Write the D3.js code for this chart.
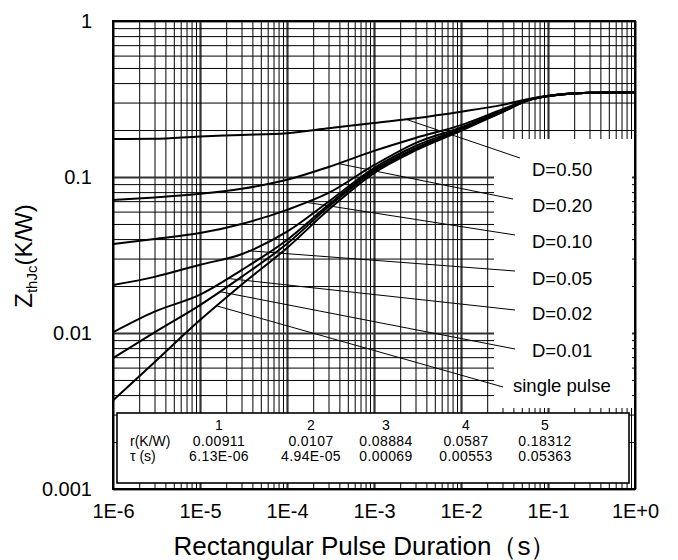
<!DOCTYPE html>
<html>
<head>
<meta charset="utf-8">
<script src="https://cdn.jsdelivr.net/npm/d3@7"></script>
<style>
body { margin: 0; background: #fff; }
svg { font-family: "Liberation Sans", Arial, sans-serif; display: block; }
</style>
</head>
<body>
<div class="canvas"></div>
<script>
const durations = [1e-6, 3e-6, 1e-5, 3e-5, 1e-4, 3e-4, 1e-3, 3e-3, 1e-2, 3e-2, 6e-2, 1e-1, 3e-1, 1]

// Zth(j-c) in K/W for each duty cycle
const zD50 = [0.175, 0.176, 0.182, 0.186, 0.191, 0.205, 0.222, 0.238, 0.262, 0.290, 0.316, 0.332, 0.347, 0.350]
const zD20 = [0.0712, 0.074, 0.078, 0.084, 0.096, 0.116, 0.147, 0.178, 0.215, 0.272, 0.314, 0.331, 0.347, 0.350]
const zD10 = [0.0372, 0.040, 0.0437, 0.050, 0.0616, 0.079, 0.119, 0.165, 0.208, 0.268, 0.313, 0.331, 0.347, 0.350]
const zD05 = [0.0203, 0.0229, 0.0274, 0.032, 0.0446, 0.0694, 0.114, 0.158, 0.204, 0.265, 0.312, 0.330, 0.347, 0.350]
const zD02 = [0.0101, 0.0137, 0.0176, 0.0253, 0.0395, 0.0663, 0.111, 0.153, 0.201, 0.263, 0.311, 0.330, 0.347, 0.350]
const zD01 = [0.0069, 0.0101, 0.0151, 0.0229, 0.0373, 0.0644, 0.109, 0.151, 0.200, 0.262, 0.311, 0.330, 0.347, 0.350]
const zSingle = [0.0037, 0.0065, 0.0121, 0.0204, 0.0351, 0.0616, 0.106, 0.148, 0.198, 0.261, 0.310, 0.330, 0.347, 0.350]

const seriesNames = ['D=0.50', 'D=0.20', 'D=0.10', 'D=0.05', 'D=0.02', 'D=0.01', 'single pulse']
// where each label's leader touches its curve: [t, Zth]
const leaderAnchors = [[2.3e-3, 0.235], [3.86e-4, 0.122], [1.61e-4, 0.069], [3.57e-5, 0.0337], [2.04e-5, 0.0224], [1.7e-5, 0.0184], [1.57e-5, 0.0149]]

const xTickLabels = ['1E-6', '1E-5', '1E-4', '1E-3', '1E-2', '1E-1', '1E+0']
const yTickLabels = ['0.001', '0.01', '0.1', '1']

// Foster network table
const tableHeader = ['1', '2', '3', '4', '5']
const rValues = ['0.00911', '0.0107', '0.08884', '0.0587', '0.18312']
const tauValues = ['6.13E-06', '4.94E-05', '0.00069', '0.00553', '0.05363']

const svg = d3.select('.canvas').append('svg').attr('width', 678).attr('height', 560)

const margins = {
    top: 21,
    right: 43,
    bottom: 71,
    left: 113
}

const gWidth = 678 - margins.left - margins.right
const gHeight = 560 - margins.top - margins.bottom

const graph = svg.append('g').attr('transform', `translate(${margins.left}, ${margins.top})`)

const x = d3.scaleLog().domain([1e-6, 1]).range([0, gWidth])
const y = d3.scaleLog().domain([1e-3, 1]).range([gHeight, 0])

const isDecade = d => Math.abs(Math.log10(d) - Math.round(Math.log10(d))) < 1e-9

// Grid (1..9 per decade)
const xGrid = d3.axisBottom(x).tickValues(x.ticks()).tickSize(-gHeight).tickFormat('')
const yGrid = d3.axisLeft(y).tickValues(y.ticks()).tickSize(-gWidth).tickFormat('')
graph.append('g').attr('class', 'grid').attr('transform', `translate(0, ${gHeight})`).call(xGrid)
graph.append('g').attr('class', 'grid').call(yGrid)
graph.selectAll('.grid .domain').remove()
graph.selectAll('.grid line')
    .attr('stroke', d => isDecade(d) ? '#333' : '#000')
    .attr('stroke-width', d => isDecade(d) ? 2.2 : 1)

// white area behind the legend labels
graph.append('rect')
    .attr('x', 381).attr('y', 118).attr('width', 138).attr('height', 269)
    .attr('fill', '#fff')

// table box
graph.append('rect')
    .attr('x', 4).attr('y', 392).attr('width', 512).attr('height', 70)
    .attr('fill', '#fff').attr('stroke', '#000').attr('stroke-width', 1.6)

// frame
graph.append('rect')
    .attr('width', gWidth).attr('height', gHeight)
    .attr('fill', 'none').attr('stroke', '#000').attr('stroke-width', 2)

// Axes labels
const xAxis = d3.axisBottom(x)
    .tickValues(x.ticks().filter(isDecade))
    .tickFormat((d, i) => xTickLabels[i])
    .tickSize(0).tickPadding(15)
const yAxis = d3.axisLeft(y)
    .tickValues(y.ticks().filter(isDecade))
    .tickFormat((d, i) => yTickLabels[i])
    .tickSize(0).tickPadding(21)

const xAxisGroup = graph.append('g').attr('transform', `translate(0, ${gHeight})`).call(xAxis)
const yAxisGroup = graph.append('g').call(yAxis)
;[xAxisGroup, yAxisGroup].forEach(g => {
    g.attr('font-size', 20).attr('font-family', null)
    g.select('.domain').remove()
    g.selectAll('text').attr('fill', '#000')
})

// Curves
const curves = [zD50, zD20, zD10, zD05, zD02, zD01, zSingle]
const line = d3.line()
    .x(d => x(d[0]))
    .y(d => y(d[1]))
    .curve(d3.curveMonotoneX)

graph.selectAll('path.curve')
    .data(curves)
    .enter()
    .append('path')
    .attr('class', 'curve')
    .attr('d', vals => line(durations.map((t, i) => [t, vals[i]])))
    .attr('fill', 'none')
    .attr('stroke', '#000')
    .attr('stroke-width', 2)

// Labels with leader lines (label layout in graph coords)
const labelPos = [
    { tx: 419, ty: 155, ex: 407, ey: 137 },
    { tx: 419, ty: 191, ex: 400, ey: 178 },
    { tx: 419, ty: 227, ex: 402, ey: 214 },
    { tx: 419, ty: 264, ex: 402, ey: 250 },
    { tx: 419, ty: 299, ex: 402, ey: 289 },
    { tx: 419, ty: 336, ex: 402, ey: 328 },
    { tx: 400, ty: 371, ex: 390, ey: 366 }
]

graph.selectAll('line.leader')
    .data(leaderAnchors)
    .enter()
    .append('line')
    .attr('class', 'leader')
    .attr('x1', d => x(d[0]))
    .attr('y1', d => y(d[1]))
    .attr('x2', (d, i) => labelPos[i].ex)
    .attr('y2', (d, i) => labelPos[i].ey)
    .attr('stroke', '#000')
    .attr('stroke-width', 1)

graph.selectAll('text.series')
    .data(seriesNames)
    .enter()
    .append('text')
    .attr('class', 'series')
    .attr('x', (d, i) => labelPos[i].tx)
    .attr('y', (d, i) => labelPos[i].ty)
    .attr('font-size', 18.5)
    .text(d => d)

// Table text
const colX = [106, 198, 273, 353, 432]
const tableRows = [
    { label: '', vals: tableHeader, y: 409 },
    { label: 'r(K/W)', vals: rValues, y: 424.5 },
    { label: 'τ (s)', vals: tauValues, y: 440 }
]
tableRows.forEach(row => {
    graph.append('text').attr('x', 17).attr('y', row.y).attr('font-size', 14).text(row.label)
    graph.selectAll(null)
        .data(row.vals)
        .enter()
        .append('text')
        .attr('x', (d, i) => colX[i])
        .attr('y', row.y)
        .attr('text-anchor', 'middle')
        .attr('font-size', 14)
        .attr('letter-spacing', 0.4)
        .text(d => d)
})

// Axis titles
svg.append('text')
    .attr('x', 365).attr('y', 555)
    .attr('text-anchor', 'middle')
    .attr('font-size', 26)
    .text('Rectangular Pulse Duration（s）')

const yTitle = svg.append('text')
    .attr('transform', 'translate(32, 256) rotate(-90)')
    .attr('text-anchor', 'middle')
    .attr('font-size', 24)
yTitle.append('tspan').text('Z')
yTitle.append('tspan').attr('font-size', 15).attr('dy', 5).text('thJc')
yTitle.append('tspan').attr('dy', -5).text('(K/W)')
</script>
</body>
</html>
